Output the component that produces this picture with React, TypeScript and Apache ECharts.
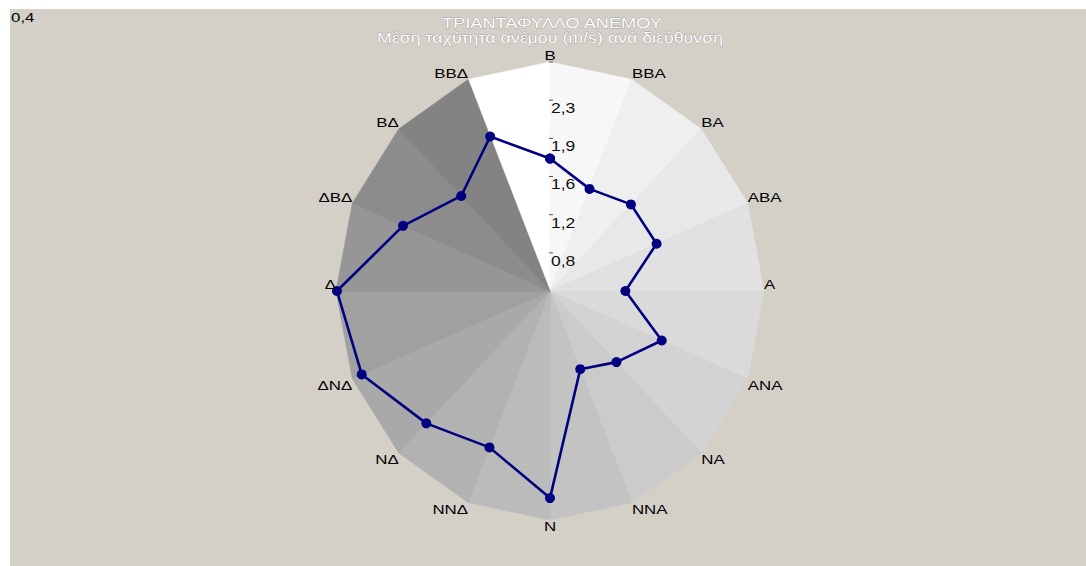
import React, { useEffect, useRef } from "react";
import * as echarts from "echarts";

// ---- data ----
const DIRECTIONS = ["Β", "ΒΒΑ", "ΒΑ", "ΑΒΑ", "Α", "ΑΝΑ", "ΝΑ", "ΝΝΑ", "Ν", "ΝΝΔ", "ΝΔ", "ΔΝΔ", "Δ", "ΔΒΔ", "ΒΔ", "ΒΒΔ"];
const SPEEDS = [1.73, 1.51, 1.63, 1.64, 1.21, 1.70, 1.41, 1.25, 2.48, 2.10, 2.28, 2.59, 2.69, 2.11, 1.75, 2.08];
const AXIS_MIN = 0.4;
const AXIS_MAX = 2.7;
const AXIS_SPLITS = 6;
const TICK_LABELS = ["0,8", "1,2", "1,6", "1,9", "2,3"];
const CENTER_LABEL = "0,4";
const TITLE = "ΤΡΙΑΝΤΑΦΥΛΛΟ ΑΝΕΜΟΥ";
const SUBTITLE = "Μέση ταχύτητα ανέμου (m/s) ανά διεύθυνση";

// ---- styles ----
const WEDGE_COLORS = [
  "#ffffff", "#f7f7f7", "#efefef", "#e8e8e8", "#e1e1e1", "#dadada", "#d3d3d3", "#cbcbcb",
  "#c3c3c3", "#bbbbbb", "#b2b2b2", "#a9a9a9", "#a0a0a0", "#969696", "#8c8c8c", "#838383",
];
const FONT = "'Liberation Sans', Arial, sans-serif";
const STRETCH = 1.3;
const LINE_COLOR = "#000080";

const N = DIRECTIONS.length;
const SPAN = AXIS_MAX - AXIS_MIN;
const angle = (i: number) => (i * 2 * Math.PI) / N;
const toXY = (v: number, i: number) => {
  const r = v - AXIS_MIN;
  return [r * Math.sin(angle(i)), r * Math.cos(angle(i))];
};

const titleStyle = (text: string) => ({
  text,
  font: `14px ${FONT}`,
  fill: "#ffffff",
  stroke: "#6a6a6a",
  lineWidth: 0.4,
  align: "center",
  verticalAlign: "middle",
  shadowColor: "#333333",
  shadowOffsetX: 1,
  shadowOffsetY: 1,
  shadowBlur: 1,
});

export default function App() {
  const ref = useRef<HTMLDivElement>(null);

  useEffect(() => {
    if (!ref.current) return;
    const chart = echarts.init(ref.current, undefined, { renderer: "svg" });

    const option: any = {
      animation: false,
      backgroundColor: "#d4d0c8",
      grid: { left: 326, top: 53, width: 428, height: 458, containLabel: false },
      xAxis: { type: "value", min: -SPAN, max: SPAN, show: false },
      yAxis: { type: "value", min: -SPAN, max: SPAN, show: false },
      graphic: [
        {
          type: "text",
          x: 1,
          y: 8,
          scaleX: STRETCH,
          style: { text: CENTER_LABEL, font: `13px ${FONT}`, fill: "#000", align: "left", verticalAlign: "middle" },
        },
        { type: "text", x: 542, y: 14, scaleX: STRETCH, style: titleStyle(TITLE) },
        { type: "text", x: 540, y: 29, scaleX: 1.27, style: titleStyle(SUBTITLE) },
      ],
      series: [
        {
          type: "custom",
          name: "wedges",
          coordinateSystem: "cartesian2d",
          encode: { x: 0, y: 1 },
          silent: true,
          z: 1,
          data: DIRECTIONS.map((name, i) => ({ name, value: [0, 0, i] })),
          renderItem: (params: any, api: any) => {
            const i = api.value(2);
            const prev = (i - 1 + N) % N;
            const c = api.coord([0, 0]);
            const p1 = api.coord(toXY(AXIS_MAX, prev));
            const p2 = api.coord(toXY(AXIS_MAX, i));
            return {
              type: "polygon",
              shape: { points: [c, p1, p2] },
              style: { fill: WEDGE_COLORS[i], stroke: WEDGE_COLORS[i], lineWidth: 0.6 },
            };
          },
        },
        {
          type: "custom",
          name: "ticks",
          coordinateSystem: "cartesian2d",
          encode: { x: 0, y: 1 },
          silent: true,
          z: 2,
          data: Array.from({ length: AXIS_SPLITS }, (_, k) => ({ value: [0, 0, k + 1] })),
          renderItem: (params: any, api: any) => {
            const k = api.value(2);
            const p = api.coord([0, (k * SPAN) / AXIS_SPLITS]);
            const children: any[] = [
              {
                type: "line",
                shape: { x1: p[0] - 1, y1: p[1], x2: p[0] + 3, y2: p[1] },
                style: { stroke: "#555555", lineWidth: 1 },
              },
            ];
            const label = TICK_LABELS[k - 1];
            if (label) {
              children.push({
                type: "text",
                x: p[0] + 1,
                y: p[1] + 1,
                scaleX: 1.25,
                style: { text: label, font: `14px ${FONT}`, fill: "#111111", align: "left", verticalAlign: "top" },
              });
            }
            return { type: "group", children };
          },
        },
        {
          type: "line",
          name: "speed",
          z: 5,
          data: [...SPEEDS, SPEEDS[0]].map((v, i) => toXY(v, i % N)),
          symbol: "circle",
          symbolSize: 10,
          showSymbol: true,
          lineStyle: { color: LINE_COLOR, width: 2.6 },
          itemStyle: { color: LINE_COLOR },
        },
        {
          type: "custom",
          name: "labels",
          coordinateSystem: "cartesian2d",
          encode: { x: 0, y: 1 },
          silent: true,
          z: 6,
          data: DIRECTIONS.map((name, i) => ({ name, value: [0, 0, i] })),
          renderItem: (params: any, api: any) => {
            const i = api.value(2);
            const p = api.coord(toXY(AXIS_MAX, i));
            const s = Math.sin(angle(i));
            const co = Math.cos(angle(i));
            const align = Math.abs(s) < 1e-6 ? "center" : s > 0 ? "left" : "right";
            const verticalAlign = co > -1e-6 ? "bottom" : "top";
            return {
              type: "text",
              x: p[0],
              y: p[1],
              scaleX: STRETCH,
              style: { text: DIRECTIONS[i], font: `13px ${FONT}`, fill: "#000000", align, verticalAlign },
            };
          },
        },
      ],
    };

    chart.setOption(option);
    return () => chart.dispose();
  }, []);

  return (
    <div
      ref={ref}
      style={{ position: "absolute", left: 10, top: 9, width: 1076, height: 557 }}
    />
  );
}
